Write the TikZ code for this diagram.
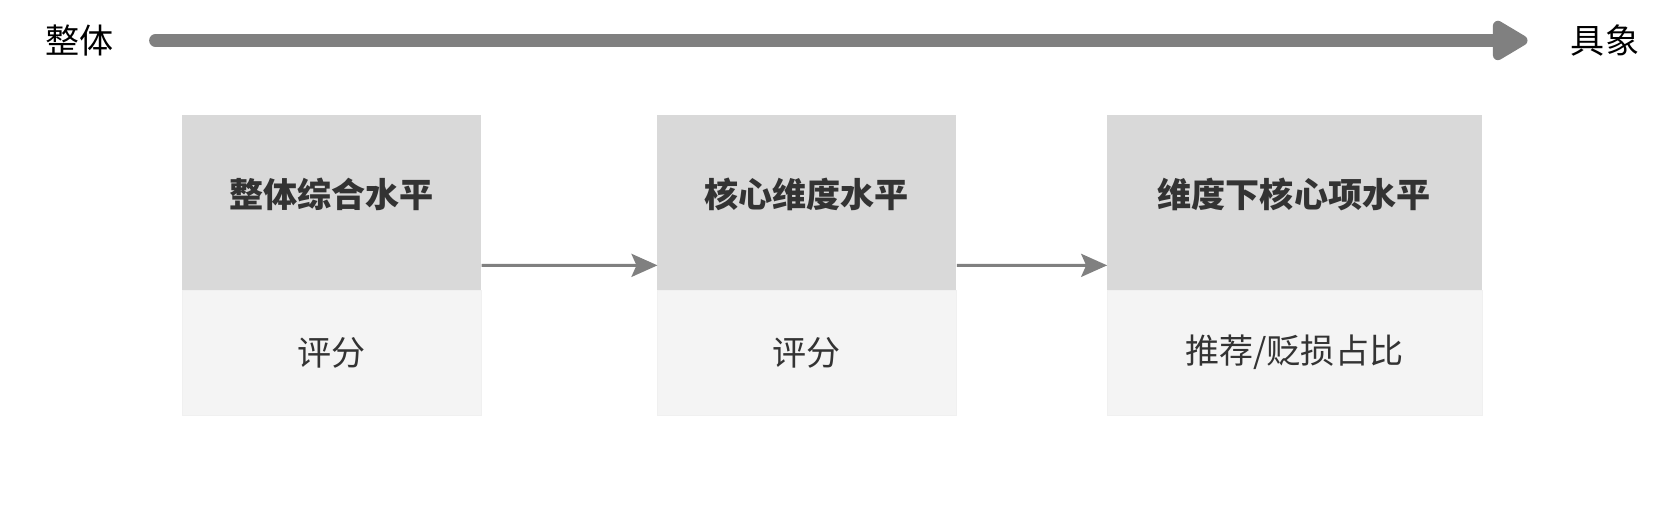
\documentclass[tikz,border=0pt]{standalone}
\usepackage{fontspec}
\setmainfont{Noto Sans CJK SC}
\usetikzlibrary{arrows.meta,positioning,fit}
\definecolor{headgray}{HTML}{D9D9D9}
\definecolor{bodygray}{HTML}{F4F4F4}
\definecolor{linegray}{HTML}{808080}
\definecolor{textgray}{HTML}{333333}

\begin{document}
\begin{tikzpicture}[x=1pt,y=-1pt,scale=1.065,every node/.style={transform shape,inner sep=0pt,outer sep=0pt},
                    >={Stealth[length=26pt,width=23pt,inset=5pt]}]
  \tikzstyle{head}=[fill=headgray,text=textgray,minimum height=164pt,text depth=18pt,
                    font=\fontsize{32}{38}\selectfont\bfseries]
  \tikzstyle{body}=[fill=bodygray,draw=headgray!40,text=textgray,minimum height=118pt,
                    font=\fontsize{32}{38}\selectfont]
  \tikzstyle{label}=[font=\fontsize{32}{38}\selectfont]
  \useasboundingbox (0,0) rectangle (1568,481);

  % axis from whole to concrete
  \node[label] (whole)    at (75,38)   {整体};
  \node[label] (concrete) at (1507,38) {具象};
  \coordinate (axisL) at (146,38);
  \coordinate (axisR) at (1434,38);
  \draw[linegray,line width=12.8pt,line cap=round,
        -{Triangle[round,length=40pt,width=44pt]}] (axisL) -- (axisR);

  % the three levels
  \node[head,minimum width=281pt,anchor=north west] (h1) at (171,108)  {整体综合水平};
  \node[body,minimum width=281pt,below=0pt of h1]   (b1)                {评分};
  \node[head,minimum width=281pt,anchor=north west] (h2) at (617,108)  {核心维度水平};
  \node[body,minimum width=281pt,below=0pt of h2]   (b2)                {评分};
  \node[head,minimum width=352pt,anchor=north west] (h3) at (1039,108) {维度下核心项水平};
  \node[body,minimum width=352pt,below=0pt of h3]   (b3)                {推荐/贬损占比};

  \node[fit=(h1)(b1)] (box1) {};
  \node[fit=(h2)(b2)] (box2) {};
  \node[fit=(h3)(b3)] (box3) {};

  \path[->,draw,color=linegray,line width=3pt]
        (box1) edge (box2)
        (box2) edge (box3);
\end{tikzpicture}
\end{document}
